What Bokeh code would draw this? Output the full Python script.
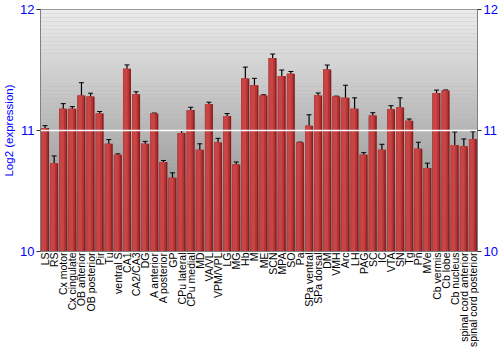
import math
from bokeh.plotting import figure
from bokeh.models import (FactorRange, Range1d, LinearAxis, FixedTicker, Whisker,
                          ColumnDataSource, BoxAnnotation)
from bokeh.transform import dodge
from bokeh.embed import file_html
from bokeh.resources import INLINE

categories = ["LS", "RS", "Cx motor", "Cx cingulate", "OB anterior", "OB posterior", "Pir", "Tu",
              "ventral S", "CA1", "CA2/CA3", "DG", "A anterior", "A posterior", "GP", "CPu lateral",
              "CPu medial", "MD", "VA/VL", "VPM/VPL", "LG", "MG", "Hb", "M", "ME", "SCN", "MPA",
              "SO", "Pa", "SPa ventral", "SPa dorsal", "DM", "VMH", "Arc", "LH", "PAG", "SC", "IC",
              "VTA", "SN", "Tg", "Pn", "MVe", "Cb vermis", "Cb lobe", "Cb nucleus",
              "spinal cord anterior", "spinal cord posterior"]

expression = [11.02, 10.73, 11.18, 11.18, 11.29, 11.28, 11.14, 10.89,
              10.80, 11.51, 11.30, 10.89, 11.14, 10.74, 10.61, 10.98,
              11.17, 10.84, 11.22, 10.90, 11.12, 10.72, 11.43, 11.375, 11.29, 11.60, 11.45,
              11.47, 10.90, 11.04, 11.29, 11.505, 11.28, 11.27, 11.18, 10.80, 11.125, 10.84,
              11.175, 11.19, 11.08, 10.85, 10.69, 11.31, 11.33, 10.88,
              10.87, 10.93]

error = [0.02, 0.06, 0.042, 0.017, 0.105, 0.028, 0.017, 0.035,
         0.007, 0.032, 0.02, 0.02, 0.004, 0.012, 0.04, 0.018,
         0.022, 0.05, 0.014, 0.035, 0.02, 0.02, 0.094, 0.056, 0.005, 0.032, 0.05,
         0.018, 0.004, 0.09, 0.02, 0.036, 0.004, 0.104, 0.09, 0.017, 0.022, 0.046,
         0.03, 0.08, 0.015, 0.053, 0.04, 0.024, 0.005, 0.108,
         0.06, 0.06]

y_ticks = [10, 11, 12]
y_label = "Log2 (expression)"

src = ColumnDataSource(dict(
    cat=categories,
    val=expression,
    upper=[v + e for v, e in zip(expression, error)],
    lower=[v - e for v, e in zip(expression, error)],
))

p = figure(width=500, height=350, output_backend="svg", toolbar_location=None,
           x_range=FactorRange(factors=categories), y_range=Range1d(y_ticks[0], y_ticks[-1]),
           min_border_left=0, min_border_right=0, min_border_top=9, min_border_bottom=0)

# gradient background
n_bands = 60
lo, hi = y_ticks[0], y_ticks[-1]
for i in range(n_bands):
    b = lo + (hi - lo) * i / n_bands
    t = lo + (hi - lo) * (i + 1) / n_bands
    mid = (b + t) / 2
    lum = int(round(236 - 54.5 * (hi - mid)))
    lum = max(0, min(255, lum))
    col = "#%02x%02x%02x" % (lum, lum, lum)
    p.add_layout(BoxAnnotation(bottom=b, top=t, fill_color=col, fill_alpha=1.0,
                               line_color=None, level="underlay"))

p.background_fill_color = "#b0b0b0"
p.border_fill_color = "white"
p.outline_line_color = "#808080"

# bars with shaded strips
p.vbar(x="cat", top="val", bottom=lo, width=0.88, source=src,
       fill_color="#8a1e1e", line_color=None)
p.vbar(x=dodge("cat", -0.08, range=p.x_range), top="val", bottom=lo, width=0.72, source=src,
       fill_color="#b33434", line_color=None)
p.vbar(x=dodge("cat", -0.16, range=p.x_range), top="val", bottom=lo, width=0.46, source=src,
       fill_color="#c94545", line_color=None)
p.vbar(x=dodge("cat", -0.39, range=p.x_range), top="val", bottom=lo, width=0.08, source=src,
       fill_color="#b84040", line_color=None)

w = Whisker(base="cat", upper="upper", lower="lower", source=src,
            line_color="black", line_width=1.2)
w.upper_head.size = 5
w.lower_head.size = 5
w.upper_head.line_color = "black"
w.lower_head.line_color = "black"
p.add_layout(w)

# grid
p.xgrid.grid_line_color = None
p.ygrid.ticker = FixedTicker(ticks=[11])
p.ygrid.grid_line_color = "white"
p.ygrid.grid_line_width = 1.5
p.ygrid.level = "glyph"

yl = p.yaxis[0]
yl.ticker = FixedTicker(ticks=y_ticks)
yl.axis_label = y_label
yl.axis_label_text_color = "blue"
yl.axis_label_text_font = "Liberation Sans"
yl.axis_label_text_font_style = "normal"
yl.axis_label_text_font_size = "11.5px"
yl.axis_label_standoff = 2

yr = LinearAxis(ticker=FixedTicker(ticks=y_ticks))
p.add_layout(yr, "right")

for ax in [yl, yr]:
    ax.major_label_text_color = "blue"
    ax.major_label_text_font = "Liberation Sans"
    ax.major_label_text_font_size = "13px"
    ax.major_label_standoff = 2
    ax.axis_line_color = "#808080"
    ax.major_tick_line_color = "#303030"
    ax.major_tick_out = 4
    ax.major_tick_in = 0
    ax.minor_tick_line_color = None

xa = p.xaxis[0]
xa.major_label_orientation = math.pi / 2
xa.major_label_text_font = "Liberation Sans"
xa.major_label_text_font_size = "10.5px"
xa.major_label_text_color = "black"
xa.major_tick_line_color = None
xa.major_tick_out = 0
xa.axis_line_color = "#808080"
xa.major_label_standoff = 1

open("out.html", "w").write(file_html(p, INLINE))
